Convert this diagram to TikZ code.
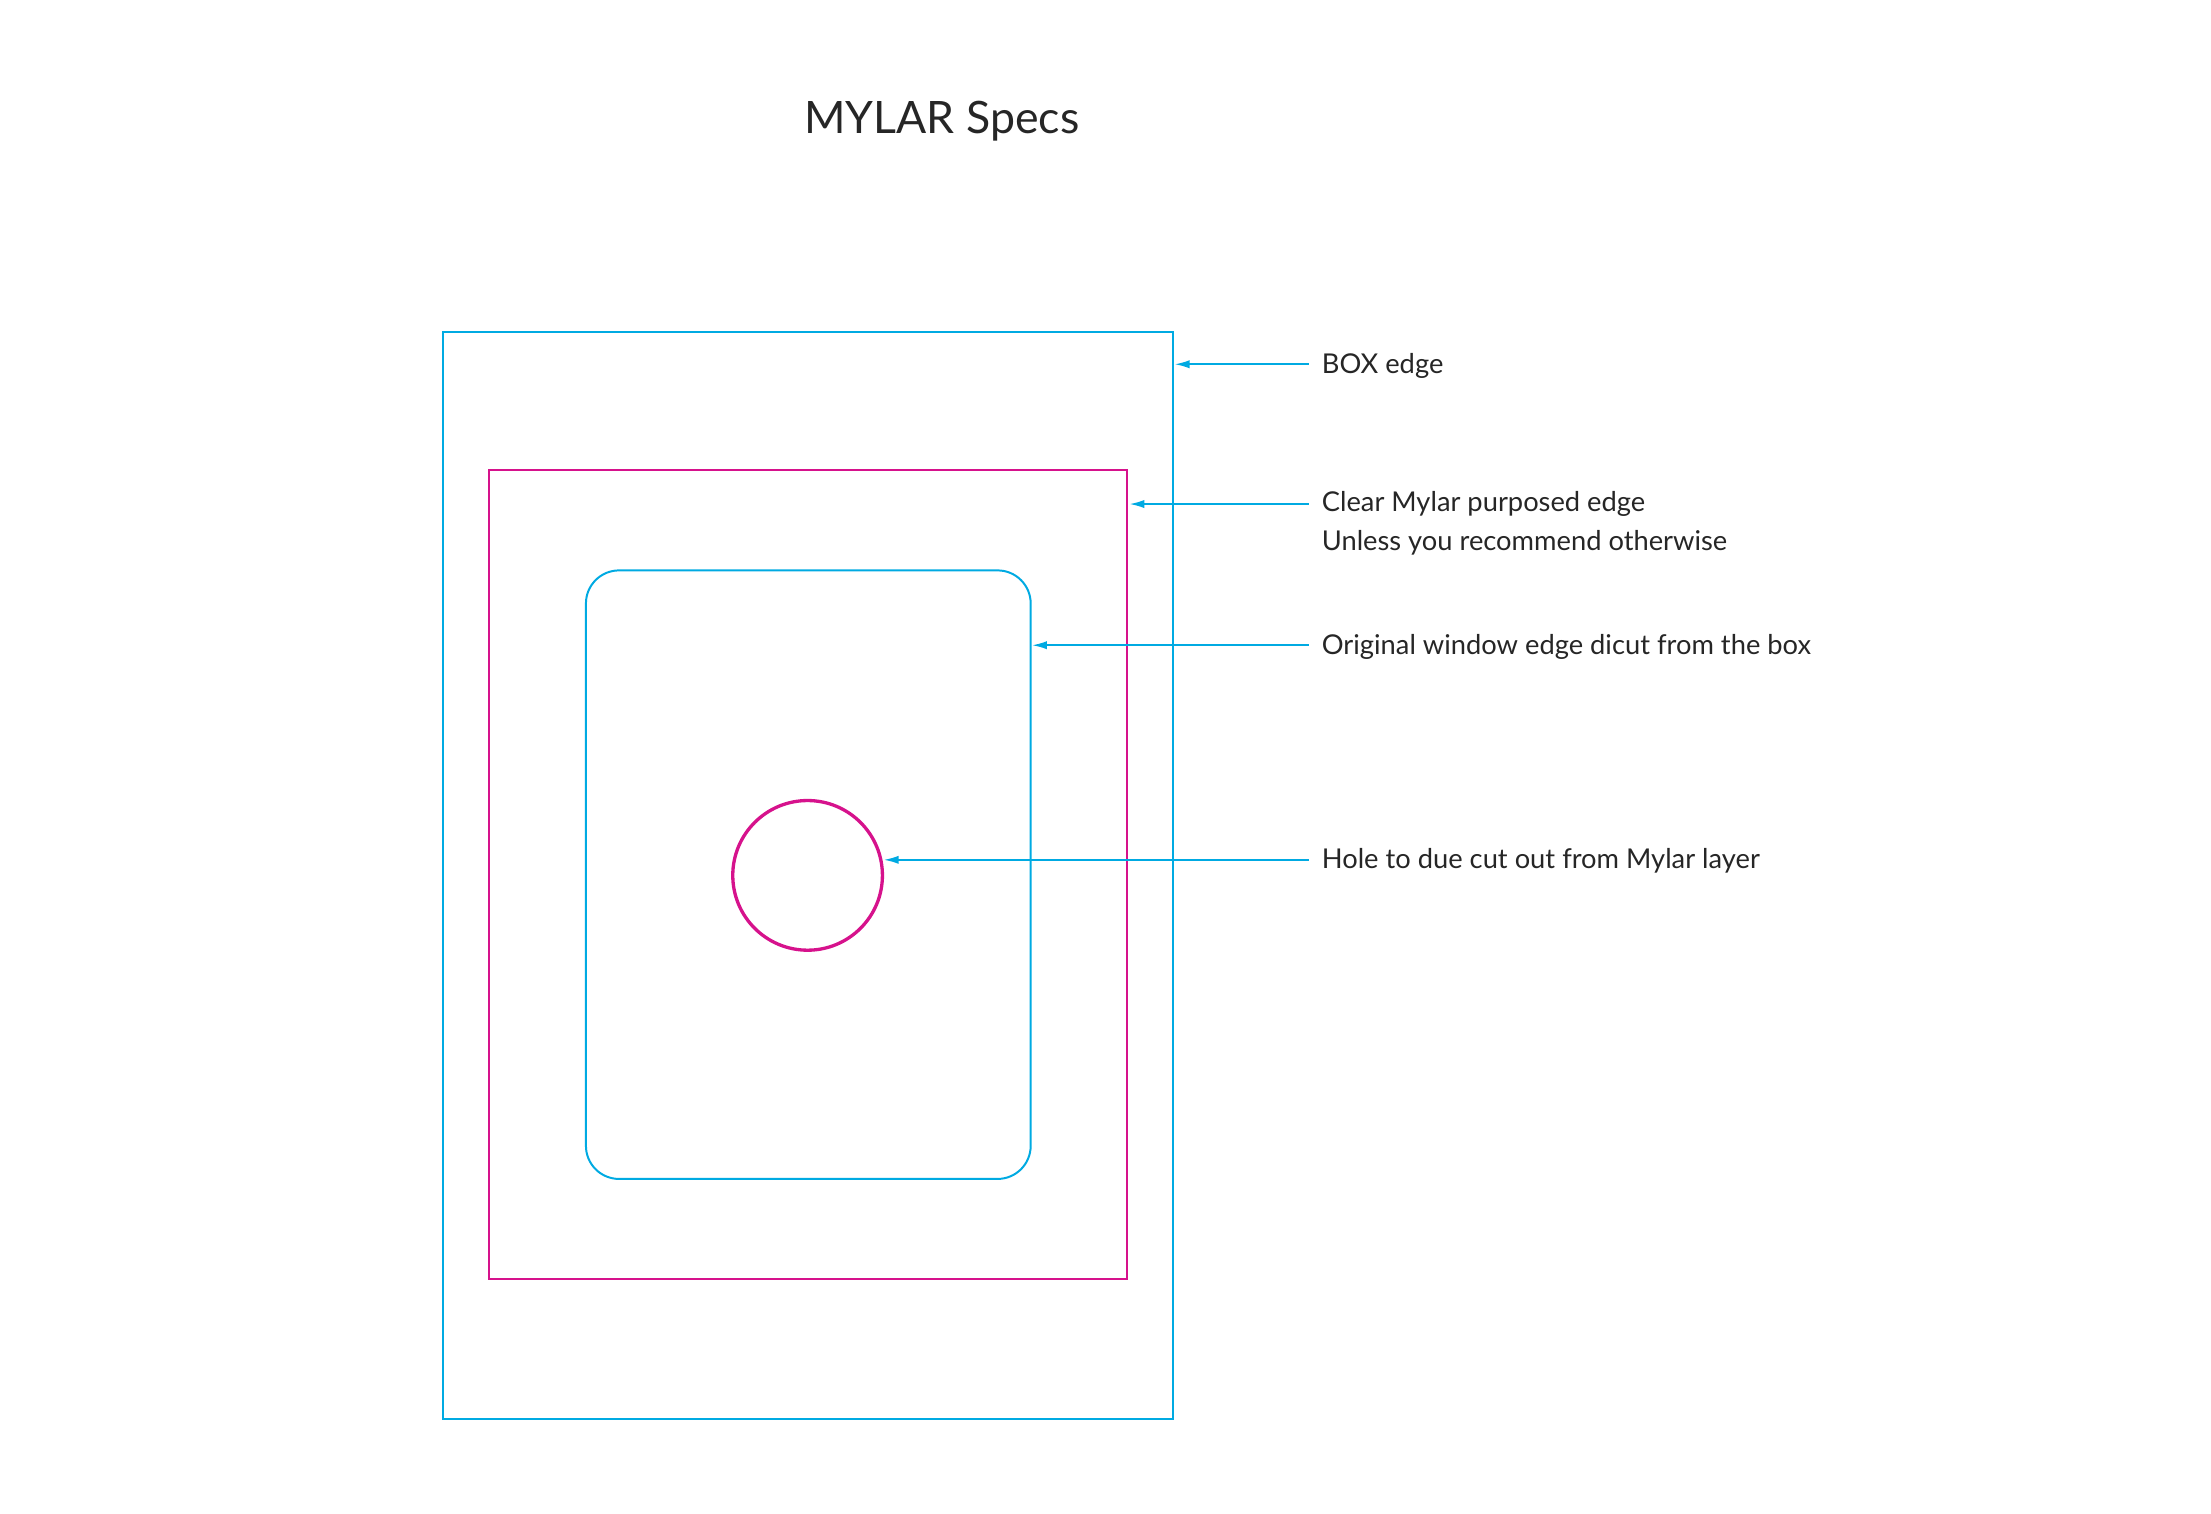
\documentclass[tikz,border=0pt]{standalone}
\usepackage{fontspec}
\setmainfont{Lato}
\usetikzlibrary{arrows.meta}
\definecolor{cy}{RGB}{0,170,226}
\definecolor{mg}{RGB}{214,18,140}
\begin{document}
\begin{tikzpicture}[x=0.03cm,y=-0.03cm,
  cyline/.style={draw=cy,line width=1.2pt},
  mgline/.style={draw=mg,line width=1.2pt},
  lead/.style={draw=cy,line width=1pt,-{Latex[length=9pt,width=5pt]}},
  lbl/.style={anchor=west,inner sep=0pt,font=\fontsize{16.5}{23.5}\selectfont,text=black!85}]
\useasboundingbox (0,0) rectangle (1566,1072);
\node[font=\fontsize{27}{32}\selectfont,text=black!85] (title) at (667,86) {MYLAR Specs};
\draw[cyline] (314,235) rectangle (831,1005);
\draw[mgline] (346,333) rectangle (798,906);
\draw[cyline,rounded corners=20] (415,404) rectangle (730,835);
\draw[draw=mg,line width=2pt] (572,620) circle (53);
\coordinate (t1) at (832,258);
\coordinate (t2) at (800,357);
\coordinate (t3) at (731,457);
\coordinate (t4) at (626,609);
\coordinate (s1) at (927,258);
\coordinate (s2) at (927,357);
\coordinate (s3) at (927,457);
\coordinate (s4) at (927,609);
\draw[lead] (s1) -- (t1);
\draw[lead] (s2) -- (t2);
\draw[lead] (s3) -- (t3);
\draw[lead] (s4) -- (t4);
\node[lbl] (l1) at (936,259) {BOX edge};
\node[lbl,align=left,anchor=north west] (l2) at (936,348) {Clear Mylar purposed edge\\Unless you recommend otherwise};
\node[lbl] (l3) at (936,458) {Original window edge dicut from the box};
\node[lbl] (l4) at (936,610) {Hole to due cut out from Mylar layer};
\end{tikzpicture}
\end{document}
